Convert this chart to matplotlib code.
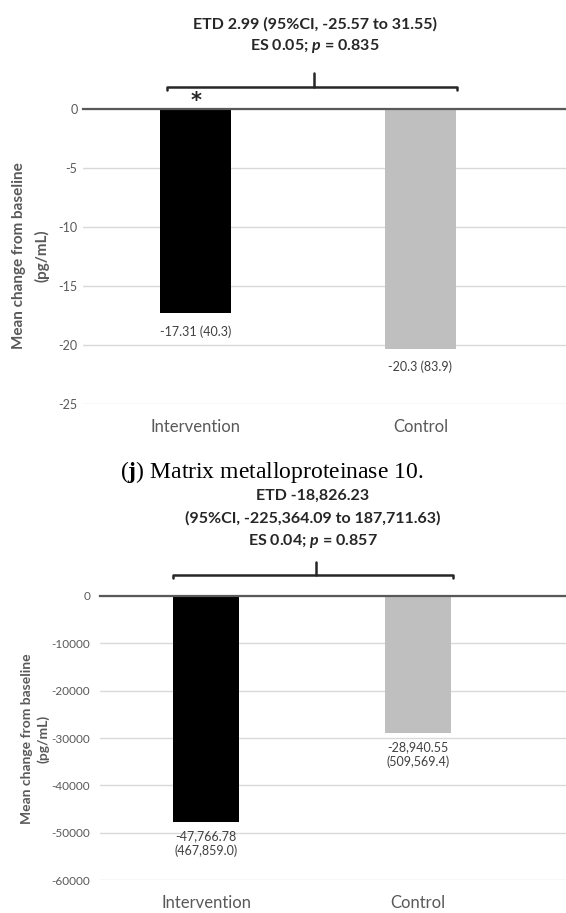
import matplotlib
matplotlib.use("Agg")
import matplotlib.pyplot as plt

plt.rcParams['font.family'] = ['Lato', 'DejaVu Sans']
plt.rcParams['mathtext.fontset'] = 'custom'
plt.rcParams['mathtext.it'] = 'Lato:italic:bold'
plt.rcParams['mathtext.bf'] = 'Liberation Serif:bold'
plt.rcParams['mathtext.rm'] = 'Liberation Serif'

# data
groups = ["Intervention", "Control"]
colors = ["black", "#bfbfbf"]

mmp9_mean = [-17.31, -20.3]
mmp9_labels = ["-17.31 (40.3)", "-20.3 (83.9)"]
mmp9_ticks = [0, -5, -10, -15, -20, -25]
mmp9_title = ["ETD 2.99 (95%CI, -25.57 to 31.55)", "ES 0.05; $p$ = 0.835"]

mmp10_mean = [-47766.78, -28940.55]
mmp10_labels = ["-47,766.78\n(467,859.0)", "-28,940.55\n(509,569.4)"]
mmp10_ticks = [0, -10000, -20000, -30000, -40000, -50000, -60000]
mmp10_title = ["ETD -18,826.23", "(95%CI, -225,364.09 to 187,711.63)",
               "ES 0.04; $p$ = 0.857"]

W, H = 566, 913
fig = plt.figure(figsize=(W / 100, H / 100), dpi=100)


def fx(px):
    return px / W


def fy(py):
    return 1 - py / H


def make_panel(left, top, bottom, ticks, means, labels, xmax, tick_fs, pad, off):
    ax = fig.add_axes([fx(left), fy(bottom), fx(W - left), (bottom - top) / H])
    x = list(range(len(groups)))
    ax.bar(x, means, width=0.315, color=colors, zorder=2)
    ax.set_xlim(-0.5, xmax)
    ax.set_ylim(min(ticks), 0)
    ax.set_yticks(ticks)
    ax.set_yticklabels([str(t) for t in ticks])
    ax.grid(axis='y', color='#d9d9d9', lw=1, zorder=0)
    ax.axhline(0, color='#595959', lw=1.6, zorder=3, clip_on=False)
    for s in ax.spines.values():
        s.set_visible(False)
    ax.tick_params(axis='y', length=0, labelsize=tick_fs, labelcolor='#595959', pad=pad)
    ax.set_xticks(x)
    ax.set_xticklabels(groups)
    ax.tick_params(axis='x', length=0, labelsize=12, labelcolor='#595959', pad=11)
    for i, (m, lab) in enumerate(zip(means, labels)):
        ax.annotate(lab, xy=(i, m), xytext=(0, -off), textcoords='offset pixels',
                    ha='center', va='top', fontsize=9, color='#404040',
                    linespacing=1.25)
    return ax


def bracket(x0, x1, xm, y, ytop):
    kw = dict(color='#262626', lw=1.8, solid_capstyle='round',
              solid_joinstyle='round', transform=fig.transFigure)
    fig.add_artist(plt.Line2D([fx(x0), fx(x0), fx(x1), fx(x1)],
                              [fy(y + 3), fy(y), fy(y), fy(y + 3)], **kw))
    fig.add_artist(plt.Line2D([fx(xm), fx(xm)], [fy(y), fy(ytop)], **kw))


# top panel (MMP-9)
ax1 = make_panel(83, 109, 404, mmp9_ticks, mmp9_mean, mmp9_labels,
                 1.647, 9, 4, 12)
for i, line in enumerate(mmp9_title):
    fig.text(fx(315), fy(24 + 22 * i), line, ha='center', va='center',
             fontsize=11.5, fontweight='bold', color='#262626')
bracket(167, 457, 314, 87, 73)
fig.text(fx(196), fy(101), "*", ha='center', va='center', fontsize=15,
         fontweight='bold', family='DejaVu Sans', color='#262626')
fig.text(fx(31), fy(256), "Mean change from baseline\n(pg/mL)", rotation=90,
         ha='center', va='center', multialignment='center', fontsize=11,
         fontweight='bold', color='#595959', linespacing=1.7)

# caption
fig.text(fx(272), fy(472), r"($\mathbf{j}$) Matrix metalloproteinase 10.",
         ha='center', va='center', fontsize=17, family='Liberation Serif',
         color='black')

# bottom panel (MMP-10)
ax2 = make_panel(100, 596, 880, mmp10_ticks, mmp10_mean, mmp10_labels,
                 1.698, 8.5, 7, 8)
for i, line in enumerate(mmp10_title):
    fig.text(fx(313), fy(496 + 22.5 * i), line, ha='center', va='center',
             fontsize=11.5, fontweight='bold', color='#262626')
bracket(173, 453, 316, 575, 562)
fig.text(fx(35), fy(739), "Mean change from baseline\n(pg/mL)", rotation=90,
         ha='center', va='center', multialignment='center', fontsize=10,
         fontweight='bold', color='#595959', linespacing=1.35)

fig.savefig("out.png", dpi=100)
